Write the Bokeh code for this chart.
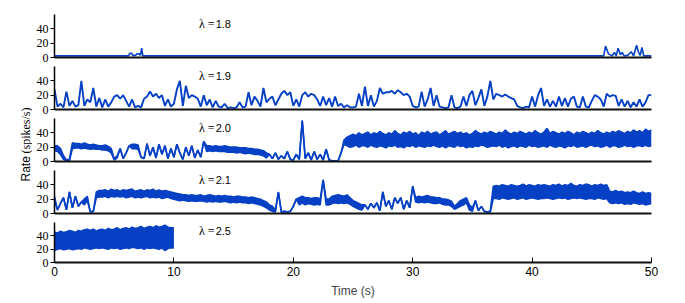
import numpy as np
from bokeh.plotting import figure
from bokeh.layouts import row, column
from bokeh.models import Range1d, FixedTicker
from bokeh.core.properties import value
from bokeh.embed import file_html
from bokeh.resources import INLINE

# ---------------- data ----------------
DT = 0.25
t_grid = np.arange(0, 50 + DT / 2, DT)          # sample times (s)

lambda_labels = ["1.8", "1.9", "2.0", "2.1", "2.5"]
y_ticks = [0, 20, 40]
x_ticks = [0, 10, 20, 30, 40, 50]

# lambda = 1.8 : almost silent, few bursts
t_18 = [0, 6.2, 6.3, 6.45, 6.55, 6.8, 6.9, 7.1, 7.2, 7.3, 7.4,
        46.0, 46.15, 46.4, 46.7, 46.9, 47.05, 47.2, 47.4, 47.55, 47.7,
        48.0, 48.3, 48.5, 48.75, 48.9, 49.05, 49.2, 49.35, 50]
r_18 = [2.2, 2.2, 6, 6, 3, 3, 5, 5, 3, 13, 2.2,
        2.2, 16, 5, 2.2, 7, 2.2, 13, 4, 7, 2.2,
        3, 8, 2.2, 17, 8, 3, 14, 2.2, 2.2]

# lambda = 1.9 : spiky activity (one value per 0.25 s)
r_19 = [
    28, 4, 8, 3,    25, 5, 12, 4,   6, 40, 5, 14,   10, 30, 4, 16,  3, 14, 4, 10,     # 0-4
    18, 20, 15, 20, 12, 4, 14, 3,   5, 3, 15, 18,   25, 18, 22, 16, 20, 5, 14, 4,     # 5-9
    8, 28, 40, 5,   33, 16, 20, 18, 15, 4, 20, 6,   14, 3, 12, 4,   3, 8, 2, 3,       # 10-14
    2, 3, 10, 3,    4, 24, 6, 18,   12, 4, 30, 10,  15, 18, 6, 14,  22, 26, 20, 24,   # 15-19
    5, 14, 4, 20,   24, 18, 22, 20, 14, 5, 18, 6,   16, 4, 18, 5,   8, 3, 6, 3,       # 20-24
    3, 4, 22, 5,    32, 5, 20, 4,   12, 30, 22, 24, 24, 26, 22, 27, 24, 20, 22, 18,   # 25-29
    5, 3, 4, 25,    4, 14, 30, 5,   20, 4, 3, 2,    3, 20, 3, 2,    4, 18, 5, 20,     # 30-34
    26, 6, 16, 28,  5, 18, 40, 14,  22, 20, 18, 21, 18, 16, 14, 5,  3, 2, 4, 3,       # 35-39
    18, 4, 20, 30,  5, 14, 4, 12,   4, 18, 5, 16,   4, 15, 18, 4,   3, 18, 4, 3,      # 40-44
    12, 20, 18, 14, 4, 22, 18, 20,  19, 5, 14, 4,   12, 3, 10, 4,   14, 4, 10, 20,    # 45-49
    20]

# lambda = 2.0 : lower / upper envelope per 0.25 s
hi_20 = [
    22, 22, 18, 8,  2, 3, 26, 25,   25, 24, 26, 24, 23, 24, 23, 22, 22, 23, 21, 18,   # 0-4
    4, 8, 18, 4,    12, 22, 24, 24, 23, 6, 4, 25,   8, 20, 5, 24,   10, 22, 4, 18,    # 5-9
    6, 24, 12, 3,   20, 8, 22, 5,   16, 6, 28, 22,  22, 21, 22, 21, 21, 22, 21, 20,   # 10-14
    20, 20, 19, 19, 19, 18, 18, 17, 17, 16, 15, 12, 10, 4, 12, 3,   8, 4, 14, 3,      # 15-19
    2, 10, 3, 57,   4, 12, 2, 14,   3, 10, 2, 17,   2, 1, 1, 1,     12, 30, 34, 36,   # 20-24
    38, 36, 40, 37, 39, 41, 37, 40, 38, 42, 39, 37, 40, 38, 43, 39, 37, 41, 39, 42,   # 25-29
    38, 40, 36, 41, 39, 42, 38, 40, 41, 37, 40, 43, 38, 40, 42, 39, 41, 38, 40, 37,   # 30-34
    39, 43, 40, 38, 41, 39, 42, 40, 38, 41, 39, 44, 40, 38, 41, 39, 42, 40, 38, 41,   # 35-39
    39, 43, 40, 38, 41, 46, 39, 42, 40, 38, 41, 39, 42, 40, 37, 41, 39, 42, 40, 38,   # 40-44
    41, 39, 43, 40, 38, 41, 39, 42, 40, 43, 41, 39, 42, 40, 44, 41, 43, 40, 45, 42,   # 45-49
    44]
lo_20 = [
    15, 14, 10, 3,  1, 1, 18, 19,   19, 18, 19, 18, 17, 18, 17, 17, 16, 16, 15, 12,   # 0-4
    2, 5, 18, 4,    12, 22, 18, 18, 17, 6, 4, 25,   8, 20, 5, 24,   10, 22, 4, 18,    # 5-9
    6, 24, 12, 3,   20, 8, 22, 5,   16, 6, 28, 14,  15, 14, 15, 14, 14, 14, 13, 13,   # 10-14
    13, 12, 13, 12, 11, 12, 11, 10, 10, 9, 8, 5,    10, 4, 12, 3,   8, 4, 14, 3,      # 15-19
    2, 10, 3, 57,   4, 12, 2, 14,   3, 10, 2, 17,   2, 1, 1, 1,     12, 24, 22, 20,   # 20-24
    21, 23, 20, 22, 22, 20, 23, 21, 20, 22, 21, 19, 22, 21, 23, 20, 21, 19, 22, 21,   # 25-29
    23, 20, 22, 21, 20, 22, 21, 23, 21, 20, 22, 19, 22, 21, 20, 23, 21, 22, 19, 21,   # 30-34
    20, 22, 21, 23, 22, 20, 21, 22, 21, 23, 20, 22, 19, 21, 22, 20, 22, 21, 20, 23,   # 35-39
    21, 22, 20, 21, 22, 20, 23, 21, 20, 22, 21, 19, 22, 21, 23, 20, 21, 22, 20, 22,   # 40-44
    23, 21, 22, 20, 21, 23, 20, 22, 22, 20, 21, 23, 21, 22, 20, 22, 22, 21, 23, 21,   # 45-49
    22]

# lambda = 2.1 : lower / upper envelope per 0.25 s
hi_21 = [
    24, 5, 14, 22,  5, 30, 8, 24,   10, 16, 20, 24, 2, 3, 30, 32,   32, 33, 31, 34,   # 0-4
    32, 33, 31, 33, 32, 33, 34, 31, 32, 33, 31, 33, 32, 34, 31, 33, 31, 32, 31, 30,   # 5-9
    29, 28, 27, 26, 26, 25, 26, 25, 25, 26, 24, 25, 26, 25, 24, 25, 24, 25, 24, 24,   # 10-14
    23, 24, 24, 23, 23, 22, 23, 22, 21, 20, 18, 16, 12, 10, 5, 30,  2, 3, 2, 3,       # 15-19
    10, 20, 22, 24, 22, 22, 21, 22, 22, 20, 47, 20, 20, 24, 25, 26, 25, 24, 26, 22,   # 20-24
    18, 16, 14, 12, 12, 6, 14, 8,   15, 4, 30, 10,  18, 6, 22, 14,  22, 6, 18, 8,     # 25-29
    38, 22, 24, 23, 24, 25, 23, 23, 22, 22, 20, 20, 19, 17, 10, 14, 18, 20, 22, 12,   # 30-34
    8, 18, 4, 10,   3, 2, 4, 38,    39, 38, 40, 39, 38, 40, 39, 38, 39, 41, 38, 40,   # 35-39
    39, 38, 40, 39, 40, 39, 38, 40, 39, 41, 38, 40, 39, 42, 39, 38, 40, 39, 41, 40,   # 40-44
    38, 40, 39, 41, 39, 40, 31, 30, 32, 30, 31, 29, 30, 29, 31, 29, 28, 30, 28, 29,   # 45-49
    28]
lo_21 = [
    18, 5, 14, 22,  5, 30, 8, 24,   10, 16, 12, 18, 2, 3, 22, 23,   23, 24, 22, 24,   # 0-4
    23, 24, 23, 24, 22, 23, 24, 22, 23, 22, 23, 24, 22, 23, 22, 23, 21, 22, 23, 21,   # 5-9
    20, 19, 18, 19, 18, 17, 18, 17, 17, 18, 17, 16, 17, 16, 17, 16, 16, 17, 16, 15,   # 10-14
    16, 15, 16, 15, 15, 14, 15, 14, 13, 12, 10, 8,  5, 3, 2, 30,    2, 3, 2, 3,       # 15-19
    10, 20, 12, 15, 12, 14, 13, 12, 13, 12, 47, 12, 12, 14, 15, 14, 15, 14, 15, 13,   # 20-24
    10, 8, 6, 5,    12, 6, 14, 8,   15, 4, 30, 10,  18, 6, 22, 14,  22, 6, 18, 8,     # 25-29
    38, 16, 15, 16, 15, 16, 15, 14, 14, 15, 13, 12, 12, 10, 6, 8,   10, 12, 15, 5,    # 30-34
    3, 18, 4, 10,   3, 2, 2, 21,    21, 20, 22, 21, 20, 21, 22, 20, 21, 22, 20, 21,   # 35-39
    22, 21, 20, 21, 21, 22, 21, 20, 21, 22, 21, 22, 20, 21, 22, 21, 22, 21, 20, 21,   # 40-44
    21, 20, 22, 21, 20, 21, 15, 14, 15, 14, 15, 13, 14, 13, 15, 14, 13, 14, 12, 13,   # 45-49
    14]

# lambda = 2.5 : 0-10 s only
hi_25 = [46, 44, 47, 45, 46, 48, 47, 45, 48, 47, 49, 50, 48, 50, 47, 49, 50, 48, 51, 49,
         50, 52, 49, 51, 52, 50, 53, 51, 52, 54, 51, 53, 54, 52, 55, 53, 54, 56, 53, 52,
         52]
lo_25 = [18, 20, 21, 19, 20, 21, 19, 20, 21, 20, 22, 21, 20, 21, 22, 21, 22, 21, 20, 22,
         21, 22, 20, 21, 22, 21, 23, 22, 21, 22, 20, 22, 21, 22, 21, 20, 22, 18, 21, 22,
         22]

# ---------------- style ----------------
BLUE = "#0640c4"
LW = 1.6
SERIF = "Liberation Serif"
SANS = "Liberation Sans"

FRAME_H = 43
FIRST_TOP = 14
TOP = 2
BOT = 7
BOTTOM_EXTRA = 35
LEFT = 22
RIGHT = 16
FRAME_W = 597
FIG_W = LEFT + FRAME_W + RIGHT
LAB_W = 32


def make_panel(idx, bottom=False):
    top = FIRST_TOP if idx == 0 else TOP
    bot = BOTTOM_EXTRA if bottom else BOT
    h = top + FRAME_H + bot
    p = figure(width=FIG_W, height=h, x_range=Range1d(0, 50), y_range=Range1d(0, 60),
               output_backend="svg", toolbar_location=None,
               min_border_left=LEFT, min_border_right=RIGHT, min_border_top=top,
               min_border_bottom=bot)
    p.outline_line_color = None
    p.xgrid.visible = False
    p.ygrid.visible = False
    p.background_fill_color = None
    p.border_fill_color = None

    ya = p.yaxis[0]
    ya.ticker = FixedTicker(ticks=y_ticks)
    ya.axis_line_width = 1.5
    ya.axis_line_color = "black"
    ya.major_tick_out = 4
    ya.major_tick_in = 0
    ya.major_tick_line_color = "black"
    ya.minor_tick_line_color = None
    ya.major_label_standoff = 2
    ya.major_label_text_font = SERIF
    ya.major_label_text_font_size = "12px"
    ya.major_label_text_color = "black"

    xa = p.xaxis[0]
    xa.axis_line_width = 2
    xa.axis_line_color = "#111111"
    xa.minor_tick_line_color = None
    if bottom:
        xa.ticker = FixedTicker(ticks=x_ticks)
        xa.major_tick_in = 5
        xa.major_tick_out = 0
        xa.major_tick_line_color = "black"
        xa.major_label_standoff = 4
        xa.major_label_text_font = SANS
        xa.major_label_text_font_size = "12px"
        xa.major_label_text_color = "black"
        xa.axis_label = "Time (s)"
        xa.axis_label_text_font = SANS
        xa.axis_label_text_font_style = "normal"
        xa.axis_label_text_font_size = "12px"
        xa.axis_label_standoff = 5
    else:
        xa.ticker = FixedTicker(ticks=[])
        xa.major_tick_line_color = None
        xa.major_tick_in = 0
        xa.major_tick_out = 0
        xa.major_label_standoff = 0
        xa.major_label_text_font_size = "0px"

    p.text(x=[12.1], y=[47], text=["λ ="], text_font=value(SERIF), text_font_size="12px",
           text_align="left", text_baseline="middle", text_color="black")
    p.text(x=[13.5], y=[47], text=[lambda_labels[idx]], text_font=value(SANS),
           text_font_size="11px", text_align="left", text_baseline="middle", text_color="black")
    return p


def band(p, t, lo, hi):
    p.varea(x=t, y1=lo, y2=hi, fill_color=BLUE, fill_alpha=1.0)
    p.line(t, lo, line_color=BLUE, line_width=LW)
    p.line(t, hi, line_color=BLUE, line_width=LW)


panels = []
p1 = make_panel(0)
p1.line(t_18, r_18, line_color=BLUE, line_width=1.6)
panels.append(p1)

p2 = make_panel(1)
p2.line(t_grid, r_19, line_color=BLUE, line_width=1.9)
panels.append(p2)

p3 = make_panel(2)
band(p3, t_grid, lo_20, hi_20)
panels.append(p3)

p4 = make_panel(3)
band(p4, t_grid, lo_21, hi_21)
panels.append(p4)

p5 = make_panel(4, bottom=True)
t25 = t_grid[:len(hi_25)]
band(p5, t25, lo_25, hi_25)
panels.append(p5)

total_h = (FIRST_TOP + FRAME_H + BOT) + 3 * (TOP + FRAME_H + BOT) + (TOP + FRAME_H + BOTTOM_EXTRA)
lab = figure(width=LAB_W, height=total_h, x_range=Range1d(0, LAB_W), y_range=Range1d(0, total_h),
             output_backend="svg", toolbar_location=None, min_border=0,
             x_axis_location=None, y_axis_location=None)
lab.outline_line_color = None
lab.xgrid.visible = False
lab.ygrid.visible = False
lab.background_fill_color = None
lab.border_fill_color = None
mid = total_h - 146
lab.text(x=[25], y=[mid - 35], text=["Rate"], angle=np.pi / 2, text_font=value(SANS),
         text_font_size="12px", text_align="left", text_baseline="middle", text_color="black")
lab.text(x=[25], y=[mid - 7], text=["(spikes/s)"], angle=np.pi / 2, text_font=value(SERIF),
         text_font_size="12px", text_align="left", text_baseline="middle", text_color="black")

layout = row(lab, column(*panels, spacing=0), spacing=0)

open("out.html", "w").write(file_html(layout, INLINE))
